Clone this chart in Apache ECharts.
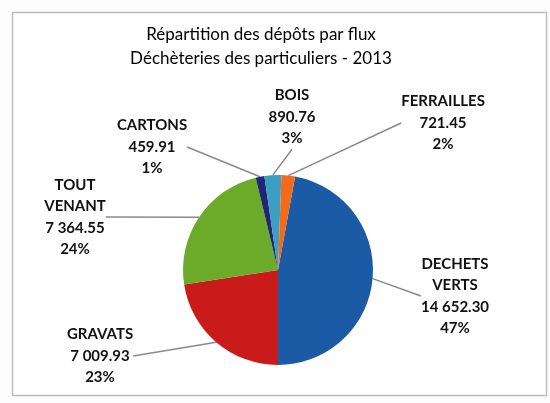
<!DOCTYPE html>
<html>
<head>
<meta charset="utf-8">
<script src="https://cdn.jsdelivr.net/npm/echarts@6/dist/echarts.min.js"></script>
<style>
  html, body { margin: 0; padding: 0; background: #fdfdfd; }
  #myChart { width: 550px; height: 403px; }
</style>
</head>
<body>
<div id="myChart"></div>
<script>
// données
var categories = ['DECHETS VERTS', 'GRAVATS', 'TOUT VENANT', 'CARTONS', 'BOIS', 'FERRAILLES'];
var tonnages = [14652.30, 7009.93, 7364.55, 459.91, 890.76, 721.45];
var colors = ['#1b5aa5', '#c91c1a', '#6cab2a', '#1f2674', '#3b9ec2', '#f26b1d'];
// centre de chaque étiquette
var labelPos = [[455, 296], [100, 356], [75, 217], [152, 147], [292, 117], [443, 123]];

function fmt(v) {
  var parts = v.toFixed(2).split('.');
  return parts[0].replace(/\B(?=(\d{3})+(?!\d))/g, ' ') + '.' + parts[1];
}

var myChart = echarts.init(document.getElementById('myChart'));
myChart.setOption({
  textStyle: { fontFamily: 'Lato' },
  title: {
    text: 'Répartition des dépôts par flux\nDéchèteries des particuliers - 2013',
    left: 256,
    top: 18,
    textAlign: 'center',
    textStyle: { fontSize: 17, fontWeight: 'normal', color: '#000', lineHeight: 24, fontFamily: 'Lato' }
  },
  graphic: [{
    type: 'rect',
    shape: { x: 12.5, y: 12.5, width: 534, height: 383 },
    style: { fill: '#fff', stroke: '#bdbdbd', lineWidth: 1.5 },
    z: -10
  }],
  series: [{
    type: 'pie',
    center: [278, 270],
    radius: 95,
    startAngle: 79.6,
    percentPrecision: 0,
    data: categories.map(function (c, i) {
      return { name: c, value: tonnages[i], itemStyle: { color: colors[i] } };
    }),
    label: {
      position: 'outside',
      color: '#111',
      fontSize: 15,
      fontWeight: 'bold',
      fontFamily: 'Lato',
      lineHeight: 21.5,
      align: 'center',
      formatter: function (p) {
        return p.name.replace(' ', '\n') + '\n' + fmt(p.value) + '\n' + p.percent + '%';
      }
    },
    labelLine: {
      show: true,
      length: 10,
      length2: 0,
      lineStyle: { color: '#8a8a8a', width: 1.5 }
    },
    labelLayout: function (params) {
      var p = labelPos[params.dataIndex];
      return { x: p[0], y: p[1], align: 'center', verticalAlign: 'middle' };
    },
    emphasis: { disabled: true }
  }]
});
</script>
</body>
</html>
